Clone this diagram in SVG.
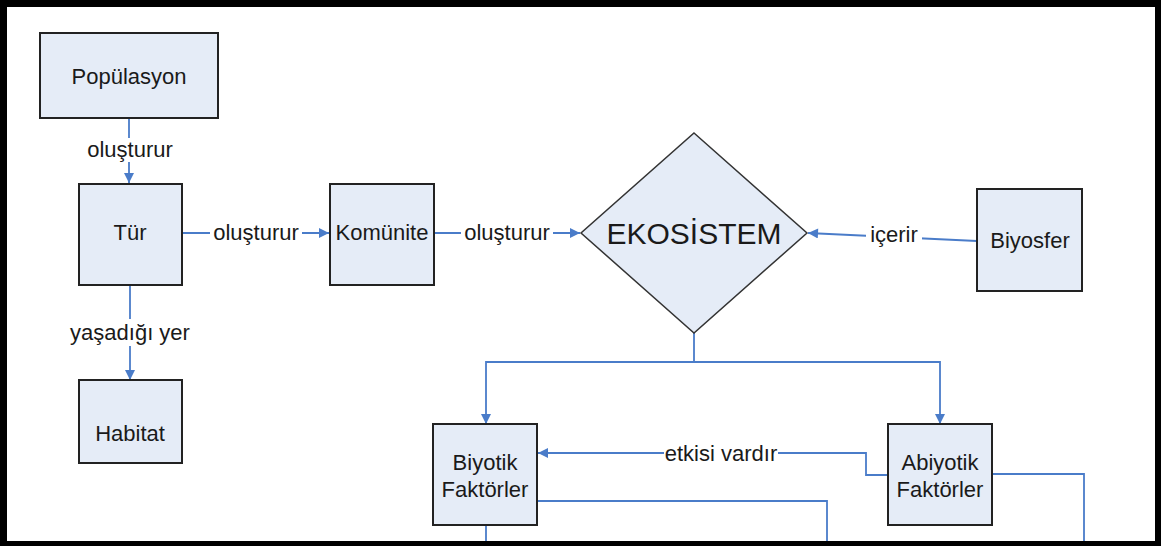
<svg xmlns="http://www.w3.org/2000/svg" width="1161" height="546" viewBox="0 0 1161 546">
<style>
.box{fill:#e5ecf7;stroke:#222;stroke-width:2}
.t{font-family:"Liberation Sans",Arial,sans-serif;font-size:22px;fill:#1a1a1a;text-anchor:middle}
.big{font-size:30px}
.c{fill:none;stroke:#4a7cc9;stroke-width:1.8}
.lb{fill:#fff}
</style>
<defs>
<marker id="ah" viewBox="0 0 10 10" refX="10" refY="5" markerWidth="11" markerHeight="10" markerUnits="userSpaceOnUse" orient="auto">
<path d="M0,0 L10,5 L0,10 z" fill="#4a7cc9"/>
</marker>
</defs>
<rect x="0" y="0" width="1161" height="546" fill="#000"/>
<rect x="7" y="7" width="1148" height="534" fill="#fff"/>
<g id="connectors">
<line class="c" x1="129" y1="118" x2="129" y2="183" marker-end="url(#ah)"/>
<line class="c" x1="182" y1="233" x2="329" y2="233" marker-end="url(#ah)"/>
<line class="c" x1="434" y1="233" x2="580" y2="233" marker-end="url(#ah)"/>
<line class="c" x1="130" y1="285" x2="130" y2="380" marker-end="url(#ah)"/>
<line class="c" x1="977" y1="241" x2="808" y2="233" marker-end="url(#ah)"/>
<polyline class="c" points="694,333 694,362 486,362 486,424" marker-end="url(#ah)"/>
<polyline class="c" points="694,362 940,362 940,424" marker-end="url(#ah)"/>
<polyline class="c" points="888,475 866,475 866,453 538,453" marker-end="url(#ah)"/>
<polyline class="c" points="538,501 827,501 827,541"/>
<line class="c" x1="486" y1="525" x2="486" y2="541"/>
<polyline class="c" points="992,474 1084,474 1084,541"/>
<rect class="lb" x="84" y="138" width="92" height="24"/>
<text class="t" x="130" y="157">oluşturur</text>
<rect class="lb" x="210" y="221" width="92" height="24"/>
<text class="t" x="256" y="240">oluşturur</text>
<rect class="lb" x="461" y="221" width="92" height="24"/>
<text class="t" x="507" y="240">oluşturur</text>
<rect class="lb" x="68" y="319" width="124" height="27"/>
<text class="t" x="130" y="340">yaşadığı yer</text>
<rect class="lb" x="866" y="224" width="56" height="24"/>
<text class="t" x="894" y="242">içerir</text>
<rect class="lb" x="664" y="441" width="114" height="24"/>
<text class="t" x="721" y="461">etkisi vardır</text>
</g>
<g id="populasyon">
<rect class="box" x="40" y="33" width="178" height="85"/>
<text class="t" x="129" y="84">Popülasyon</text>
</g>
<g id="tur">
<rect class="box" x="79" y="184" width="103" height="101"/>
<text class="t" x="130" y="240">Tür</text>
</g>
<g id="komunite">
<rect class="box" x="330" y="184" width="104" height="101"/>
<text class="t" x="382" y="240">Komünite</text>
</g>
<g id="habitat">
<rect class="box" x="79" y="380" width="103" height="83"/>
<text class="t" x="130" y="441">Habitat</text>
</g>
<g id="ekosistem">
<polygon points="694,133 807,233 694,333 581,233" fill="#e5ecf7" stroke="#333" stroke-width="1.5"/>
<text class="t big" x="694" y="244">EKOSİSTEM</text>
</g>
<g id="biyosfer">
<rect class="box" x="977" y="189" width="105" height="102"/>
<text class="t" x="1030" y="248">Biyosfer</text>
</g>
<g id="biyotik">
<rect class="box" x="433" y="424" width="104" height="101"/>
<text class="t" x="485" y="470">Biyotik</text>
<text class="t" x="485" y="497">Faktörler</text>
</g>
<g id="abiyotik">
<rect class="box" x="888" y="424" width="104" height="101"/>
<text class="t" x="940" y="470">Abiyotik</text>
<text class="t" x="940" y="497">Faktörler</text>
</g>
</svg>
